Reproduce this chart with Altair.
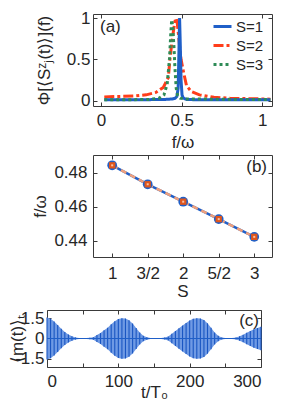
import altair as alt
import pandas as pd

FONT = "Liberation Sans"
TXT = "#262626"
FRAME = "#3a3a3a"
BLUE = "#1f5fc8"
RED = "#ff3d1a"
GREEN = "#2e8b57"
SALMON = "#f0a07c"
ORANGE = "#e0561c"

# ---------------- panel (a) data ----------------
a_series = ["1", "2", "3"]
a_s1_f = [0.02, 0.1, 0.2, 0.3, 0.4, 0.44, 0.46, 0.47, 0.478, 0.483, 0.487, 0.491, 0.496, 0.502, 0.51, 0.53, 0.6, 0.8, 1.0, 1.05]
a_s1_p = [0.01, 0.01, 0.01, 0.012, 0.015, 0.02, 0.03, 0.05, 0.15, 0.6, 1.0, 0.7, 0.25, 0.07, 0.03, 0.015, 0.01, 0.01, 0.01, 0.01]
a_s2_f = [0.02, 0.1, 0.2, 0.28, 0.34, 0.386, 0.417, 0.427, 0.44, 0.45, 0.458, 0.465, 0.472, 0.48, 0.49, 0.496, 0.51, 0.53, 0.56, 0.61, 0.7, 0.8, 0.9, 1.05]
a_s2_p = [0.045, 0.05, 0.055, 0.07, 0.1, 0.16, 0.28, 0.5, 0.72, 0.86, 0.96, 1.0, 0.95, 0.8, 0.6, 0.5, 0.36, 0.18, 0.11, 0.07, 0.04, 0.03, 0.025, 0.018]
a_s3_f = [0.02, 0.1, 0.2, 0.3, 0.36, 0.39, 0.41, 0.424, 0.432, 0.438, 0.444, 0.452, 0.458, 0.466, 0.475, 0.49, 0.52, 0.6, 0.8, 1.0, 1.05]
a_s3_p = [0.01, 0.01, 0.012, 0.015, 0.03, 0.07, 0.2, 0.5, 0.8, 0.98, 0.9, 0.65, 0.4, 0.15, 0.06, 0.03, 0.02, 0.02, 0.015, 0.015, 0.015]
a_xticks = [0, 0.5, 1]
a_xlabels = ["0", "0.5", "1"]
a_yticks = [0, 0.5, 1]
a_ylabels = ["0", "0.5", "1"]

# ---------------- panel (b) data ----------------
b_S = [1, 1.5, 2, 2.5, 3]
b_labels = ["1", "3/2", "2", "5/2", "3"]
b_f = [0.4845, 0.4733, 0.4630, 0.4527, 0.4422]
b_yticks = [0.44, 0.46, 0.48]
b_ylabels = ["0.44", "0.46", "0.48"]

# ---------------- panel (c) data ----------------
c_t = list(range(0, 301, 5))
c_env = [1.55, 1.45, 1.25, 1.0, 0.72, 0.48, 0.3, 0.17, 0.08, 0.04,
         0.03, 0.03, 0.05, 0.1, 0.25, 0.4, 0.6, 0.8, 1.05, 1.28,
         1.43, 1.5, 1.47, 1.35, 1.1, 0.78, 0.45, 0.2, 0.09, 0.04,
         0.03, 0.03, 0.04, 0.07, 0.14, 0.35, 0.55, 0.75, 0.95, 1.15,
         1.32, 1.45, 1.5, 1.48, 1.36, 1.12, 0.8, 0.45, 0.2, 0.07,
         0.04, 0.03, 0.04, 0.08, 0.16, 0.28, 0.42, 0.56, 0.68, 0.78,
         0.86]
c_xticks = [0, 50, 100, 150, 200, 250, 300]
c_xlabels = ["0", "", "100", "", "200", "", "300"]
c_yticks = [-1.5, 0, 1.5]
c_ylabels = ["-1.5", "0", "1.5"]


def lab_expr(vals, labs):
    e = "''"
    for v, l in zip(reversed(vals), reversed(labs)):
        e = f"datum.value == {v} ? '{l}' : ({e})"
    return e


TK = 4


def axis(orient, vals, labs=None, title=None, lp=4, tp=4, **kw):
    if labs is None:
        return alt.Axis(orient=orient, values=vals, labels=False, title=None,
                        offset=-TK, tickSize=TK, domain=False, grid=False)
    return alt.Axis(orient=orient, values=vals, labelExpr=lab_expr(vals, labs),
                    title=title, offset=-TK, tickSize=TK, domain=False, grid=False,
                    labelPadding=lp, titlePadding=tp, labelAngle=0, **kw)


def spacer(xpx):
    return alt.Chart(pd.DataFrame({"t": ["."]})).mark_text(
        opacity=0, align="left", fontSize=10).encode(
        x=alt.value(xpx), y=alt.value(40), text="t:N")


def label_txt(txt, xpx, ypx, align):
    return alt.Chart(pd.DataFrame({"t": [txt]})).mark_text(
        align=align, baseline="middle", fontSize=17, font=FONT, color=TXT).encode(
        x=alt.value(xpx), y=alt.value(ypx), text="t:N")


# ---------------- panel (a) ----------------
rows = []
for s, fx, py in [("1", a_s1_f, a_s1_p), ("2", a_s2_f, a_s2_p), ("3", a_s3_f, a_s3_p)]:
    for i, (u, v) in enumerate(zip(fx, py)):
        rows.append({"S": s, "f": u, "P": v, "i": i})
df_a = pd.DataFrame(rows)

xa = alt.Scale(domain=[-0.05, 1.06], nice=False, zero=False)
ya = alt.Scale(domain=[-0.065, 1.05], nice=False, zero=False)
col_sc = alt.Scale(domain=a_series, range=[BLUE, RED, GREEN])
dash_sc = alt.Scale(domain=a_series, range=[[1, 0], [10, 3, 3, 3], [3, 3]])
leg = alt.Legend(title=None, orient="none", legendX=165, legendY=2,
                 symbolType="stroke", symbolSize=324, symbolStrokeWidth=3,
                 labelFontSize=15, labelFont=FONT, labelColor=TXT,
                 labelExpr="'S=' + datum.label", rowPadding=-2.5,
                 labelOffset=3, padding=0)


def a_line(s, first):
    return alt.Chart(df_a).transform_filter(alt.datum.S == s).mark_line(
        strokeWidth=3, clip=True).encode(
        x=alt.X("f:Q", scale=xa,
                axis=axis("bottom", a_xticks, a_xlabels, "f/ω", lp=6, tp=6) if first else None),
        y=alt.Y("P:Q", scale=ya,
                axis=axis("left", a_yticks, a_ylabels, "Φ[⟨Sᶻⱼ(t)⟩](f)", lp=3, tp=13) if first else None),
        color=alt.Color("S:N", scale=col_sc, legend=leg),
        strokeDash=alt.StrokeDash("S:N", scale=dash_sc, legend=leg),
        order="i:Q",
    )


a_mirror = alt.Chart(df_a).mark_point(opacity=0).encode(
    x=alt.X("f:Q", scale=xa, axis=axis("top", a_xticks)),
    y=alt.Y("P:Q", scale=ya, axis=axis("right", a_yticks)),
)

chart_a = alt.layer(
    a_line("2", False), a_line("1", True), a_line("3", False), a_mirror,
    label_txt("(a)", 7, 13, "left"), spacer(-60)
).resolve_axis(x="independent", y="independent").properties(width=179, height=92)

# ---------------- panel (b) ----------------
df_b = pd.DataFrame({"S": b_S, "f": b_f})
xb = alt.Scale(domain=[0.73, 3.25], nice=False, zero=False)
yb = alt.Scale(domain=[0.4303, 0.4906], nice=False, zero=False)

b_base = alt.Chart(df_b)
b_line1 = b_base.mark_line(color=BLUE, strokeWidth=2.5).encode(
    x=alt.X("S:Q", scale=xb, axis=axis("bottom", b_S, b_labels, "S", lp=8, tp=2)),
    y=alt.Y("f:Q", scale=yb, axis=axis("left", b_yticks, b_ylabels, "f/ω", lp=6, tp=4)),
)
enc_b = dict(x=alt.X("S:Q", scale=xb, axis=None), y=alt.Y("f:Q", scale=yb, axis=None))
b_line2 = b_base.mark_line(color=SALMON, strokeWidth=2.5, strokeDash=[6, 4]).encode(**enc_b)
b_circ = b_base.mark_point(shape="circle", filled=True, size=95, color=BLUE, opacity=1).encode(**enc_b)
b_sq = b_base.mark_point(shape="square", filled=True, size=40, color=ORANGE, opacity=1).encode(**enc_b)
b_dot = b_base.mark_point(shape="square", filled=True, size=4, color="#f6c0a4", opacity=1).encode(**enc_b)
b_mirror = b_base.mark_point(opacity=0).encode(
    x=alt.X("S:Q", scale=xb, axis=axis("top", b_S)),
    y=alt.Y("f:Q", scale=yb, axis=axis("right", b_yticks)),
)
chart_b = alt.layer(
    b_line1, b_line2, b_circ, b_sq, b_dot, b_mirror,
    label_txt("(b)", 174, 12, "right"), spacer(-60)
).resolve_axis(x="independent", y="independent").properties(width=179, height=102)

# ---------------- panel (c) ----------------
df_c = pd.DataFrame({"t": c_t, "hi": c_env, "lo": [-e for e in c_env]})
xc = alt.Scale(domain=[0, 300], nice=False, zero=False)
yc = alt.Scale(domain=[-2.1, 2.1], nice=False, zero=False)
c_base = alt.Chart(df_c)
c_area = c_base.mark_area(color="#6f9ae4", opacity=1).encode(
    x=alt.X("t:Q", scale=xc, axis=axis("bottom", c_xticks, c_xlabels, "t/T₀", lp=6, tp=-5)),
    y=alt.Y("lo:Q", scale=yc, axis=axis("left", c_yticks, c_ylabels, "⟨m(t)⟩ₜ", lp=3, tp=-12)),
    y2="hi:Q",
)
c_rules = c_base.mark_rule(color="#1a56c2", strokeWidth=1.1).encode(
    x=alt.X("t:Q", scale=xc, axis=None), y=alt.Y("lo:Q", scale=yc, axis=None), y2="hi:Q")
c_mid = alt.Chart(pd.DataFrame({"z": [0]})).mark_rule(color=BLUE, strokeWidth=1.2).encode(
    y=alt.Y("z:Q", scale=yc, axis=None))
c_mirror = c_base.mark_point(opacity=0).encode(
    x=alt.X("t:Q", scale=xc, axis=axis("top", c_xticks)),
    y=alt.Y("hi:Q", scale=yc, axis=axis("right", c_yticks)),
)
chart_c = alt.layer(
    c_area, c_rules, c_mid, c_mirror, label_txt("(c)", 212, 10.5, "right"), spacer(-37)
).resolve_axis(x="independent", y="independent").properties(width=214, height=57)

# left shim so that panels (a),(b) sit further right than panel (c)
shim = alt.Chart(pd.DataFrame({"v": [0]})).mark_point(opacity=0).encode(
    x=alt.value(0), y=alt.value(0)
).properties(width=1, height=1, view=alt.ViewBackground(stroke="transparent"))

ab = alt.vconcat(chart_a, chart_b, spacing=3)
top = alt.hconcat(shim, ab, spacing=-20)
chart = alt.vconcat(top, chart_c, spacing=8).properties(padding=0).configure_view(
    stroke=FRAME, strokeWidth=1
).configure_axis(
    labelFont=FONT, titleFont=FONT, labelFontSize=17, titleFontSize=17,
    labelColor=TXT, titleColor=TXT, tickColor=FRAME, titleFontWeight="normal",
    tickWidth=1
)

chart.save("out.html", embed_options={"renderer": "svg", "actions": False})
